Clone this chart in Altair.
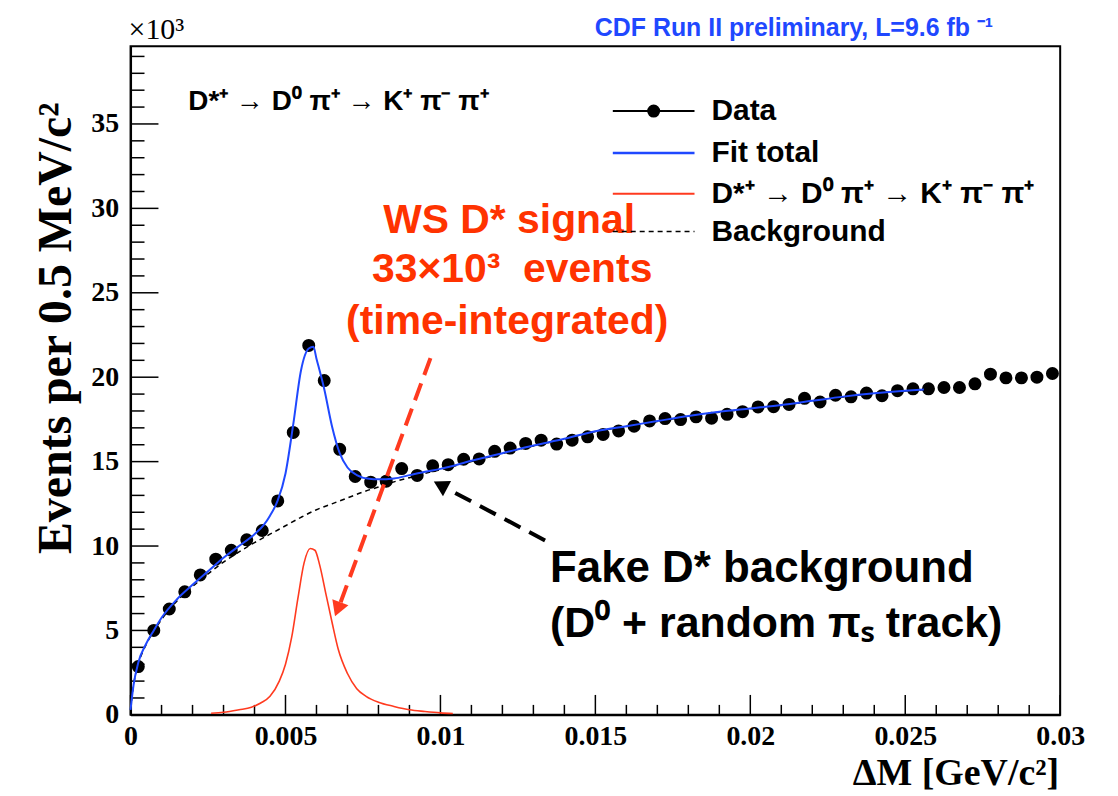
import altair as alt
import pandas as pd

# ---------------- data (x in GeV/c^2, y in units of 10^3 events) ----------------
BIN_CENTERS = [0.00025, 0.00075, 0.00125, 0.00175, 0.00225, 0.00275, 0.00325, 0.00375,
               0.00425, 0.00475, 0.00525, 0.00575, 0.00625, 0.00675, 0.00725, 0.00775,
               0.00825, 0.00875, 0.00925, 0.00975, 0.01025, 0.01075, 0.01125, 0.01175,
               0.01225, 0.01275, 0.01325, 0.01375, 0.01425, 0.01475, 0.01525, 0.01575,
               0.01625, 0.01675, 0.01725, 0.01775, 0.01825, 0.01875, 0.01925, 0.01975,
               0.02025, 0.02075, 0.02125, 0.02175, 0.02225, 0.02275, 0.02325, 0.02375,
               0.02425, 0.02475, 0.02525, 0.02575, 0.02625, 0.02675, 0.02725, 0.02775,
               0.02825, 0.02875, 0.02925, 0.02975]
DATA_COUNTS = [2.86, 5.00, 6.27, 7.29, 8.29, 9.22, 9.75, 10.37, 10.92, 12.67,
               16.73, 21.88, 19.80, 15.73, 14.12, 13.78, 13.84, 14.59, 14.18, 14.75,
               14.82, 15.14, 15.16, 15.61, 15.80, 16.08, 16.27, 16.04, 16.27, 16.47,
               16.61, 16.82, 17.10, 17.41, 17.55, 17.49, 17.65, 17.57, 17.80, 17.96,
               18.24, 18.25, 18.39, 18.75, 18.53, 18.93, 18.84, 19.06, 18.90, 19.20,
               19.31, 19.31, 19.39, 19.39, 19.61, 20.18, 19.96, 19.96, 20.00, 20.22]

FIT_X = [0.0, 0.0001, 0.00025, 0.0005, 0.00075, 0.001, 0.0015, 0.002, 0.0025, 0.003,
         0.0035, 0.004, 0.0043, 0.0045, 0.00475, 0.005, 0.00525, 0.0055, 0.00575, 0.0059,
         0.006, 0.00625, 0.0065, 0.00675, 0.007, 0.0073, 0.0077, 0.008, 0.0085, 0.009,
         0.0095, 0.010, 0.011, 0.012, 0.013, 0.014, 0.015, 0.016, 0.017, 0.018,
         0.019, 0.020, 0.021, 0.022, 0.023, 0.024, 0.025, 0.0256]
FIT_TOTAL = [0.3, 1.8, 3.1, 4.2, 5.0, 5.75, 6.85, 7.7, 8.5, 9.3,
             10.0, 10.7, 11.25, 11.8, 12.7, 14.3, 17.2, 20.4, 21.7, 21.8,
             21.1, 19.3, 17.1, 15.5, 14.65, 14.2, 13.98, 13.95, 14.0, 14.2,
             14.4, 14.57, 15.05, 15.5, 15.95, 16.35, 16.8, 17.1, 17.4, 17.7,
             17.95, 18.15, 18.35, 18.6, 18.85, 19.05, 19.2, 19.27]

BKG_X = [0.0, 0.0001, 0.00025, 0.0005, 0.00075, 0.001, 0.0015, 0.002, 0.0025, 0.003,
         0.0035, 0.004, 0.0045, 0.005, 0.0055, 0.006, 0.0065, 0.007, 0.0075, 0.008,
         0.0085, 0.009, 0.0095, 0.010, 0.011, 0.012, 0.013, 0.014, 0.015, 0.016,
         0.017, 0.018, 0.019, 0.020, 0.021, 0.022, 0.023, 0.024, 0.025, 0.0256]
BKG = [0.3, 1.8, 3.0, 4.15, 4.95, 5.65, 6.75, 7.6, 8.35, 9.05,
       9.65, 10.2, 10.7, 11.2, 11.7, 12.15, 12.5, 12.85, 13.2, 13.5,
       13.8, 14.05, 14.3, 14.52, 15.0, 15.48, 15.93, 16.33, 16.78, 17.08,
       17.38, 17.68, 17.93, 18.13, 18.33, 18.58, 18.83, 19.03, 19.18, 19.25]

SIG_X = [0.0026, 0.003, 0.0035, 0.0039, 0.0042, 0.0045, 0.0048, 0.005, 0.0052, 0.0054,
         0.0056, 0.0058, 0.00595, 0.0061, 0.0063, 0.0065, 0.0067, 0.007, 0.0073, 0.0076,
         0.008, 0.0085, 0.009, 0.0095, 0.0100, 0.0104]
SIGNAL = [0.1, 0.15, 0.3, 0.45, 0.7, 1.1, 2.0, 3.0, 4.6, 6.9,
          9.0, 9.85, 9.75, 8.9, 7.2, 5.5, 3.9, 2.45, 1.55, 1.1,
          0.75, 0.5, 0.3, 0.2, 0.12, 0.08]

X_MAJOR = [0, 0.005, 0.01, 0.015, 0.02, 0.025, 0.03]
X_MINOR = [0.001, 0.002, 0.003, 0.004, 0.006, 0.007, 0.008, 0.009, 0.011, 0.012, 0.013,
           0.014, 0.016, 0.017, 0.018, 0.019, 0.021, 0.022, 0.023, 0.024, 0.026, 0.027,
           0.028, 0.029]
Y_MAJOR = [0, 5, 10, 15, 20, 25, 30, 35]
Y_MINOR = [1, 2, 3, 4, 6, 7, 8, 9, 11, 12, 13, 14, 16, 17, 18, 19, 21, 22, 23, 24,
           26, 27, 28, 29, 31, 32, 33, 34, 36, 37, 38, 39]

# ---------------- styling ----------------
W, H = 933, 671
SANS = "Liberation Sans"
SERIF = "Liberation Serif"
BLUE = "#1f48ff"
RED = "#ff3a1f"
RED_TXT = "#ff3300"

XS = alt.Scale(domain=[0, 0.03], nice=False, zero=False)
YS = alt.Scale(domain=[0, 39.6], nice=False, zero=False)

X_AXIS = alt.Axis(values=X_MAJOR, format="~g", ticks=False, grid=False, title=None,
                  domainColor="black", domainWidth=2, labelFont=SERIF, labelFontWeight="bold",
                  labelFontSize=28, labelColor="black", labelPadding=8, labelFlush=False,
                  labelOverlap=False)
Y_AXIS = alt.Axis(values=Y_MAJOR, format="d", ticks=False, grid=False, title=None,
                  domainColor="black", domainWidth=2, labelFont=SERIF, labelFontWeight="bold",
                  labelFontSize=28, labelColor="black", labelPadding=12, labelFlush=False,
                  labelOverlap=False)


def X(field):
    return alt.X(field, scale=XS, axis=X_AXIS)


def Y(field):
    return alt.Y(field, scale=YS, axis=Y_AXIS)


df_data = pd.DataFrame({"x": BIN_CENTERS, "y": DATA_COUNTS})
df_fit = pd.DataFrame({"x": FIT_X, "y": FIT_TOTAL})
df_bkg = pd.DataFrame({"x": BKG_X, "y": BKG})
df_sig = pd.DataFrame({"x": SIG_X, "y": SIGNAL})

one = pd.DataFrame({"a": [0]})


# inward ticks (ROOT style)
def yticks(vals, length):
    return alt.Chart(pd.DataFrame({"y": vals})).mark_rule(color="black", strokeWidth=1.5).encode(
        y=Y("y:Q"), x=alt.value(0), x2=alt.value(length))


def xticks(vals, length):
    return alt.Chart(pd.DataFrame({"x": vals})).mark_rule(color="black", strokeWidth=1.5).encode(
        x=X("x:Q"), y=alt.value(H), y2=alt.value(H - length))


points = alt.Chart(df_data).mark_circle(size=170, color="black", opacity=1).encode(
    x=X("x:Q"), y=Y("y:Q"))
bkg_line = alt.Chart(df_bkg).mark_line(color="black", strokeWidth=1.5, strokeDash=[5, 4],
                                       interpolate="monotone").encode(x=X("x:Q"), y=Y("y:Q"))
fit_line = alt.Chart(df_fit).mark_line(color=BLUE, strokeWidth=2, interpolate="monotone").encode(
    x=X("x:Q"), y=Y("y:Q"))
sig_line = alt.Chart(df_sig).mark_line(color=RED, strokeWidth=1.6, interpolate="monotone").encode(
    x=X("x:Q"), y=Y("y:Q"))


def txt(s, x, y, size, color="black", font=SANS, weight="bold", align="left",
        baseline="middle", angle=0):
    return alt.Chart(pd.DataFrame({"t": [s]})).mark_text(
        font=font, fontSize=size, fontWeight=weight, color=color, align=align,
        baseline=baseline, angle=angle).encode(x=alt.value(x), y=alt.value(y), text="t:N")


def seg(x1, y1, x2, y2, color, width, dash=None):
    kw = dict(color=color, strokeWidth=width)
    if dash:
        kw["strokeDash"] = dash
    return alt.Chart(one).mark_rule(**kw).encode(
        x=alt.value(x1), x2=alt.value(x2), y=alt.value(y1), y2=alt.value(y2))


def head(x, y, angle, color, size=300):
    return alt.Chart(one).mark_point(shape="triangle-up", filled=True, size=size, angle=angle,
                                     color=color, opacity=1, strokeWidth=0).encode(
        x=alt.value(x), y=alt.value(y))


NB = "\u00a0"
texts = [
    txt("×10³", -2, -16, 30, font=SERIF, weight="normal"),
    txt("CDF Run II preliminary, L=9.6 fb" + NB + "⁻¹", 466, -18, 25, color=BLUE),
    txt("D*⁺ → D⁰ π⁺ → K⁺ π⁻ π⁺", 58, 56, 28),
    txt("WS D* signal", 380, 175, 41, color=RED_TXT, align="center"),
    txt("33×10³" + NB + " events", 383, 225, 41, color=RED_TXT, align="center"),
    txt("(time-integrated)", 378, 277, 41, color=RED_TXT, align="center"),
    txt("Fake D* background", 421, 525, 44),
    txt("(D⁰ + random πₛ track)", 421, 580, 43),
    txt("Events per 0.5 MeV/c²", -74, 283, 48, font=SERIF, align="center", angle=270),
    txt("ΔM [GeV/c²]", 932, 741, 38, font=SERIF, align="right", baseline="alphabetic"),
]

arrows = [
    seg(301, 313, 209.7, 561, RED, 4, [18, 9]),
    head(207.9, 565, 201, RED, 300),
    seg(416, 496, 313.7, 441.8, "black", 4, [18, 10]),
    head(311, 440.4, 298, "black", 300),
]

# manual legend (no border, ROOT TLegend style)
LX1, LX2, LXT = 484, 566, 583
legend = [
    seg(LX1, 65, LX2, 65, "black", 2),
    alt.Chart(one).mark_circle(size=170, color="black", opacity=1).encode(
        x=alt.value(525), y=alt.value(65)),
    txt("Data", LXT, 65, 30),
    seg(LX1, 107, LX2, 107, BLUE, 2.5),
    txt("Fit total", LXT, 107, 30),
    seg(LX1, 148, LX2, 148, RED, 2),
    txt("D*⁺ → D⁰ π⁺ → K⁺ π⁻ π⁺", LXT, 148, 30),
    seg(LX1, 186, LX2, 186, "black", 1.5, [5, 4]),
    txt("Background", LXT, 186, 30),
]

chart = alt.layer(
    points, yticks(Y_MAJOR, 28), yticks(Y_MINOR, 14), xticks(X_MAJOR, 20), xticks(X_MINOR, 10),
    bkg_line, fit_line, sig_line,
    *texts, *arrows, *legend
).properties(
    width=W, height=H,
    padding={"left": 123, "top": 37, "right": 50, "bottom": 80},
    autosize=alt.AutoSizeParams(type="none"),
    background="white",
).configure_view(stroke="black", strokeWidth=2)

chart.save("out.html", embed_options={"renderer": "svg", "actions": False})
